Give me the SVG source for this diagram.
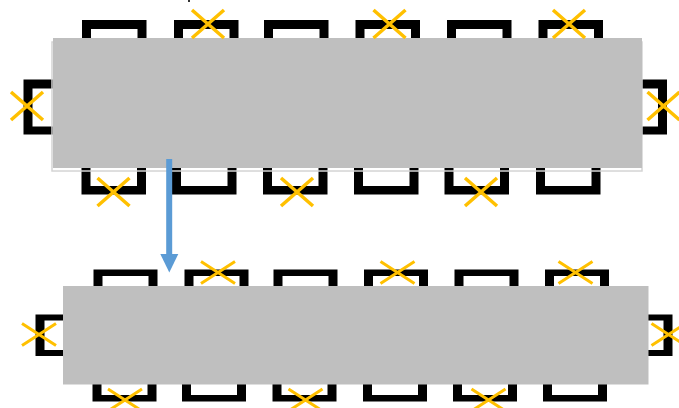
<svg xmlns="http://www.w3.org/2000/svg" xmlns:xlink="http://www.w3.org/1999/xlink" width="679" height="408" viewBox="0 0 679 408">
<style>
.c{fill:#000}
.i{fill:#fff}
.t{fill:#BFBFBF}
.o{fill:none;stroke:#D4D4D4;stroke-width:1.5}
.x1{fill:none;stroke:#FFC000;stroke-width:3.5}
.x2{fill:none;stroke:#FFC000;stroke-width:3}
</style>
<defs>
<path id="xa" class="x1" d="M-16,-14 L16,14 M16,-14 L-16,14"/>
<path id="xb" class="x2" d="M-17,-11 L17,11 M17,-11 L-17,11"/>
<marker id="ah" viewBox="0 0 10 10" refX="5" refY="10" markerWidth="3.1" markerHeight="3.1" orient="auto-start-reverse" markerUnits="strokeWidth"><path d="M0,0 L10,0 L5,10 z" fill="#5B9BD5"/></marker>
</defs>
<rect x="188" y="0" width="2" height="2" fill="#333"/>
<g id="table1">
<g id="t1-chairs-top">
<rect class="c" x="82" y="20" width="64.5" height="60"/><rect class="i" x="91" y="29" width="46.5" height="60"/>
<rect class="c" x="174" y="20" width="64.5" height="60"/><rect class="i" x="183" y="29" width="46.5" height="60"/>
<rect class="c" x="264" y="20" width="64.5" height="60"/><rect class="i" x="273" y="29" width="46.5" height="60"/>
<rect class="c" x="355.5" y="20" width="64.5" height="60"/><rect class="i" x="364.5" y="29" width="46.5" height="60"/>
<rect class="c" x="447" y="20" width="64.5" height="60"/><rect class="i" x="456" y="29" width="46.5" height="60"/>
<rect class="c" x="538.5" y="20" width="64.5" height="60"/><rect class="i" x="547.5" y="29" width="46.5" height="60"/>
</g>
<g id="t1-chairs-bottom">
<rect class="c" x="81.5" y="140" width="64.5" height="54.5"/><rect class="i" x="90.5" y="130" width="46.5" height="56"/>
<rect class="c" x="172" y="140" width="64.5" height="54.5"/><rect class="i" x="181" y="130" width="46.5" height="56"/>
<rect class="c" x="263" y="140" width="64.5" height="54.5"/><rect class="i" x="272" y="130" width="46.5" height="56"/>
<rect class="c" x="354" y="140" width="64.5" height="54.5"/><rect class="i" x="363" y="130" width="46.5" height="56"/>
<rect class="c" x="444.5" y="140" width="64.5" height="54.5"/><rect class="i" x="453.5" y="130" width="46.5" height="56"/>
<rect class="c" x="536" y="140" width="64.5" height="54.5"/><rect class="i" x="545" y="130" width="46.5" height="56"/>
</g>
<g id="t1-chairs-side">
<rect class="c" x="23.5" y="79.5" width="60" height="55"/><rect class="i" x="32.5" y="88.5" width="60" height="38"/>
<rect class="c" x="607" y="79.5" width="60" height="55"/><rect class="i" x="598" y="88.5" width="60" height="38"/>
</g>
<rect class="o" x="52" y="42" width="590" height="129"/>
<rect class="t" x="53" y="38" width="589" height="130"/>
<g id="t1-marks">
<use xlink:href="#xa" x="208" y="24"/>
<use xlink:href="#xa" x="389.5" y="24"/>
<use xlink:href="#xa" x="569" y="24"/>
<use xlink:href="#xa" x="27" y="106"/>
<use xlink:href="#xa" x="663.5" y="106"/>
<use xlink:href="#xa" x="113.5" y="192"/>
<use xlink:href="#xa" x="297" y="192"/>
<use xlink:href="#xa" x="481" y="192"/>
</g>
</g>
<g id="table2">
<g id="t2-chairs-top">
<rect class="c" x="93.5" y="269.5" width="64" height="40"/><rect class="i" x="102.5" y="276" width="46" height="40"/>
<rect class="c" x="184.5" y="269.5" width="64" height="40"/><rect class="i" x="193.5" y="276" width="46" height="40"/>
<rect class="c" x="273.5" y="269.5" width="64" height="40"/><rect class="i" x="282.5" y="276" width="46" height="40"/>
<rect class="c" x="364" y="269.5" width="64" height="40"/><rect class="i" x="373" y="276" width="46" height="40"/>
<rect class="c" x="454.5" y="269.5" width="64" height="40"/><rect class="i" x="463.5" y="276" width="46" height="40"/>
<rect class="c" x="545" y="269.5" width="64" height="40"/><rect class="i" x="554" y="276" width="46" height="40"/>
</g>
<g id="t2-chairs-bottom">
<rect class="c" x="92.5" y="370" width="64" height="31.5"/><rect class="i" x="101.5" y="360" width="46" height="35"/>
<rect class="c" x="182" y="370" width="64" height="31.5"/><rect class="i" x="191" y="360" width="46" height="35"/>
<rect class="c" x="272.5" y="370" width="64" height="31.5"/><rect class="i" x="281.5" y="360" width="46" height="35"/>
<rect class="c" x="363" y="370" width="64" height="31.5"/><rect class="i" x="372" y="360" width="46" height="35"/>
<rect class="c" x="453" y="370" width="64" height="31.5"/><rect class="i" x="462" y="360" width="46" height="35"/>
<rect class="c" x="543" y="370" width="64" height="31.5"/><rect class="i" x="552" y="360" width="46" height="35"/>
</g>
<g id="t2-chairs-side">
<rect class="c" x="35.5" y="314.5" width="40" height="41.5"/><rect class="i" x="44.5" y="320.5" width="40" height="29.5"/>
<rect class="c" x="632.5" y="314.5" width="40" height="41.5"/><rect class="i" x="623.5" y="320.5" width="40" height="29.5"/>
</g>
<rect class="t" x="63" y="286" width="585.5" height="98.5"/>
<g id="t2-marks">
<use xlink:href="#xb" x="218" y="272.5"/>
<use xlink:href="#xb" x="397.5" y="272.5"/>
<use xlink:href="#xb" x="575.5" y="272.5"/>
<use xlink:href="#xb" x="39" y="334.5"/>
<use xlink:href="#xb" x="668.5" y="334.5"/>
<use xlink:href="#xb" x="125" y="400"/>
<use xlink:href="#xb" x="305.5" y="400"/>
<use xlink:href="#xb" x="488.5" y="400"/>
</g>
</g>
<g id="connectors">
<line x1="169.2" y1="159" x2="169.2" y2="254.5" stroke="#5B9BD5" stroke-width="6"/>
<polygon points="160.3,254 178.3,254 169.3,272.5" fill="#5B9BD5"/>
</g>
</svg>
